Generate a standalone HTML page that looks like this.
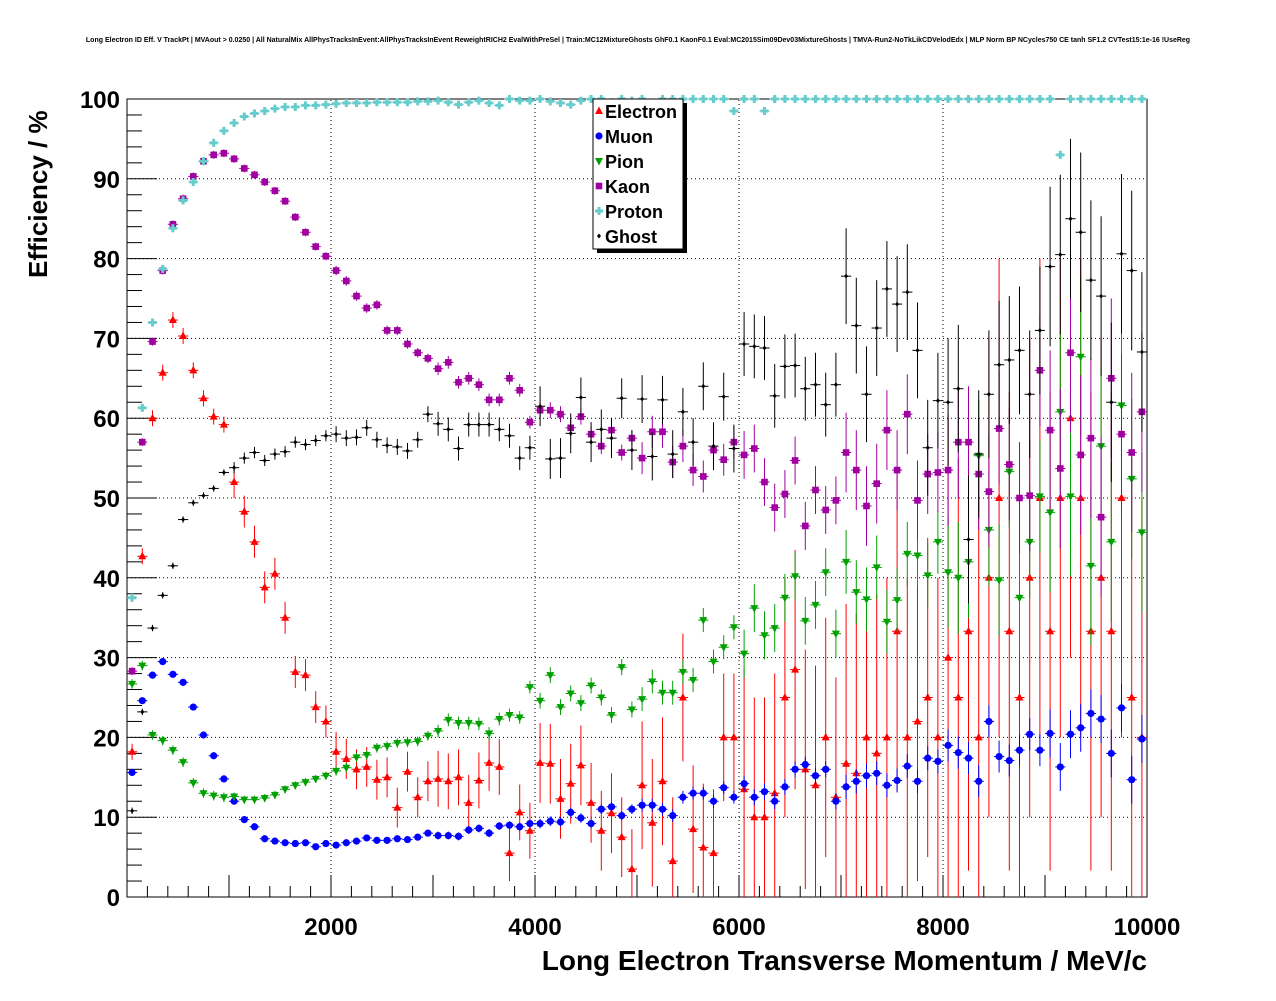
<!DOCTYPE html>
<html><head><meta charset="utf-8"><style>
body{margin:0;background:#fff;}
svg text{font-family:"Liberation Sans",sans-serif;font-weight:bold;}
</style></head><body>
<svg id="chart" width="1276" height="996">
<rect width="1276" height="996" fill="#fff"/>
<text x="638" y="42" font-size="7" text-anchor="middle">Long Electron ID Eff. V TrackPt | MVAout &gt; 0.0250 | All NaturalMix AllPhysTracksInEvent:AllPhysTracksInEvent ReweightRICH2 EvalWithPreSel | Train:MC12MixtureGhosts GhF0.1 KaonF0.1 Eval:MC2015Sim09Dev03MixtureGhosts | TMVA-Run2-NoTkLikCDVelodEdx | MLP Norm BP NCycles750 CE tanh SF1.2 CVTest15:1e-16 !UseReg</text>
<g id="grid"></g>
<g id="axes"></g>
<g id="marks"></g>
<text x="1147" y="970" font-size="28" text-anchor="end">Long Electron Transverse Momentum / MeV/c</text>
<text transform="translate(47,278) rotate(-90)" font-size="26">Efficiency / %</text>
<g id="legend"></g>
</svg>
<script>
const xTicks=[2000,4000,6000,8000,10000];
const yTicks=[0,10,20,30,40,50,60,70,80,90,100];
const seriesNames=["Electron","Muon","Pion","Kaon","Proton","Ghost"];
const proton=[37.5,61.3,72,78.7,83.8,87.3,89.6,92.2,94.5,96,97,97.8,98.2,98.5,98.8,99,99,99.2,99.2,99.3,99.4,99.5,99.5,99.5,99.6,99.6,99.6,99.6,99.7,99.7,99.8,99.6,99.3,99.6,99.8,99.5,99.2,100,99.8,99.8,100,99.7,99.5,99.3,99.8,100,100,99.6,100,99.8,100,99.5,100,100,100,100,100,100,100,98.5,100,100,98.5,100,100,100,100,100,100,100,100,100,100,100,100,100,100,100,100,100,100,100,100,100,100,100,100,100,100,100,100,93,100,100,100,100,100,100,100,100];
const kaon=[28.3,57,69.6,78.5,84.3,87.5,90.3,92.2,93,93.2,92.5,91.3,90.5,89.6,88.5,87.2,85.2,83.3,81.5,80.3,78.5,77.2,75.3,73.8,74.2,71,71,69.3,68.2,67.5,66.2,67,64.5,65,64.2,62.3,62.3,65,63.5,59.5,61,61,60.5,58.8,60.2,58,56.5,58.5,55.7,57.5,55,58.3,58.3,54.5,56.5,53.5,52.7,56,54.8,57,55.4,56.2,52,48.8,50.5,54.7,46.5,51,48.5,49.7,55.7,53.5,49,51.8,58.5,53.5,60.5,49.7,53,53.2,53.5,57,57,53,50.8,58.7,54.2,50,50.3,66,58.5,53.7,68.2,55.4,57.5,47.6,65,58,55.7,60.8];
const ghost=[10.8,23.2,33.7,37.8,41.5,47.3,49.4,50.3,51.2,53.2,53.8,55,55.7,54.7,55.5,55.8,57,56.7,57.2,57.8,58,57.5,57.6,58.8,57.3,56.6,56.4,55.9,57.3,60.5,59.3,58.6,56.2,59.2,59.2,59.2,58.6,57.8,55,56.3,61.5,54.9,55,58.1,62.6,57,58.6,57.5,62.5,56,62.4,55.2,62.3,55.5,60.8,57,64,56.5,62.7,56.2,69.3,69,68.8,62.8,66.5,66.6,63.7,64.2,61.7,64.2,77.8,71.6,63,71.3,76.2,74.3,75.8,68.5,56.3,62.2,62,63.7,44.8,55.5,63,66.7,67.3,68.5,63,71,79,80.5,85,83.3,77.3,75.3,62,80.6,78.5,68.3];
const pion=[26.7,29,20.3,19.6,18.4,16.9,14.3,13,12.7,12.5,12.6,12.2,12.2,12.4,12.8,13.5,14,14.4,14.8,15.2,15.8,16.2,17.5,17.8,18.7,18.9,19.3,19.4,19.5,20.2,20.8,22.2,21.8,21.8,21.7,20.5,22.3,22.8,22.5,26.3,24.6,27.8,23.8,25.5,24.3,26.5,25,22.8,28.8,23.5,24.8,27,25.6,25.6,28.2,27.2,34.7,29.5,31.3,33.8,30.5,36.2,32.8,33.7,37.5,40.2,34.6,36.6,40.7,33,42,38.2,37.3,41.3,34.5,37.2,43,42.8,40.3,44.5,40.7,40,42,55.3,46,39.7,53.3,37.5,44.5,50.2,48.2,60.8,50.2,67.7,41.5,56.5,44.5,61.6,52.4,45.7];
const electron=[18.2,42.7,60,65.7,72.3,70.3,66,62.5,60.2,59.2,52,48.3,44.5,38.8,40.5,35,28.2,27.8,23.8,22,18.2,17.3,16,16.3,14.7,15,11.2,15.7,12.5,14.5,14.8,14.5,15,11.8,14.6,16.8,16.3,5.5,10.6,8.3,16.8,16.7,12.3,14.2,16.5,11.8,8.3,10.5,7.5,3.5,14,9.3,14.5,4.5,25,8.5,6.2,5.5,20,20,13.5,10,10,13,25,28.5,16,14,20,12.5,16.7,15.5,20,18,20,33.3,20,22,25,20,30,25,33.3,20,40,50,33.3,25,40,50,33.3,50,60,50,33.3,40,33.3,50,25,20];
const muon=[15.6,24.6,27.8,29.5,27.9,26.9,23.8,20.3,17.7,14.8,12,9.7,8.8,7.3,7,6.8,6.7,6.8,6.3,6.7,6.5,6.8,7,7.4,7.1,7.1,7.3,7.2,7.5,8,7.7,7.7,7.6,8.4,8.6,8,8.9,9,8.8,9.2,9.2,9.5,9.4,10.6,9.9,9.2,11,11.3,10.2,11,11.5,11.5,11,10.2,12.5,13,13,12,13.7,12.5,14.2,12.5,13.2,12,13.8,16,16.6,15.2,16,12,13.8,14.5,15.2,15.5,14,14.6,16.4,14.5,17.4,17,19,18.1,17.4,14.5,22,17.6,17.1,18.4,20.4,18.4,20.5,16.3,20.4,21.2,23,22.3,18,23.7,14.7,19.8];
const errElectron=[1,2,2.5,3.5,5,8,15,20,30,30];
const errMuon=[0.4,0.3,0.4,0.5,0.6,0.8,1,1.5,2,3];
const errPion=[0.6,0.5,0.6,0.8,1,1.5,3,4,7,10];
const errKaon=[0.5,0.5,0.6,0.8,1,2,3,5,7,10];
const errProton=[0.5,0.3,0.2,0.2,0.2,0.3,0.3,0.3,0.5,0.5];
const errGhost=[0.4,0.7,1,1.5,2.5,3,4,6,8,10];
const binWidth=100;

const X0=127,X1=1147,Y0=897,Y1=99;
const xs=v=>X0+(v/10000)*(X1-X0);
const ys=v=>Y0-(v/100)*(Y0-Y1);
const NS="http://www.w3.org/2000/svg";
function mk(tag,attrs,parent){const e=document.createElementNS(NS,tag);for(const k in attrs)e.setAttribute(k,attrs[k]);parent.appendChild(e);return e;}
const grid=document.getElementById('grid'),axes=document.getElementById('axes'),marks=document.getElementById('marks'),legend=document.getElementById('legend');
xTicks.forEach(t=>{if(t<10000){const l=mk('line',{x1:xs(t),x2:xs(t),y1:Y0,y2:Y1,stroke:'#000','stroke-width':1,'stroke-dasharray':'1,3'},grid);

}
const tx=mk('text',{x:xs(t),y:935,'font-size':24,'text-anchor':'middle'},axes);tx.textContent=t;

});
for(let v=0;v<=10000;v+=200){const len=(v%1000===0)?22:11;mk('line',{x1:xs(v),x2:xs(v),y1:Y0,y2:Y0-len,stroke:'#000'},axes);}
yTicks.forEach(t=>{if(t>0&&t<100){const l=mk('line',{x1:X0,x2:X1,y1:ys(t),y2:ys(t),stroke:'#000','stroke-width':1,'stroke-dasharray':'1,3'},grid);

}
const tx=mk('text',{x:120,y:ys(t)+9,'font-size':24,'text-anchor':'end'},axes);tx.textContent=t;

});
for(let v=0;v<=100;v+=2){const len=(v%10===0)?30:15;mk('line',{x1:X0,x2:X0+len,y1:ys(v),y2:ys(v),stroke:'#000'},axes);}
mk('rect',{x:X0,y:Y1,width:X1-X0,height:Y0-Y1,fill:'none',stroke:'#000','stroke-width':1},axes);

function marker(type,cx,cy,color,parent){
 if(type==='tri')return mk('polygon',{points:`${cx},${cy-4.5} ${cx-4},${cy+3} ${cx+4},${cy+3}`,fill:color},parent);
 if(type==='circ')return mk('circle',{cx:cx,cy:cy,r:3.6,fill:color},parent);
 if(type==='tridown')return mk('polygon',{points:`${cx},${cy+4.5} ${cx-4},${cy-3} ${cx+4},${cy-3}`,fill:color},parent);
 if(type==='sq')return mk('rect',{x:cx-3.3,y:cy-3.3,width:6.6,height:6.6,fill:color},parent);
 if(type==='cross')return mk('path',{d:`M${cx-4},${cy-1.5}h2.5v-2.5h3v2.5h2.5v3h-2.5v2.5h-3v-2.5h-2.5z`,fill:color},parent);
 if(type==='diam')return mk('polygon',{points:`${cx},${cy-2.5} ${cx-2},${cy} ${cx},${cy+2.5} ${cx+2},${cy}`,fill:color},parent);
}
const defs=[
 {name:'electron',vals:electron,err:errElectron,type:'tri',color:'#ff0000'},
 {name:'muon',vals:muon,err:errMuon,type:'circ',color:'#0000ff'},
 {name:'pion',vals:pion,err:errPion,type:'tridown',color:'#00a000'},
 {name:'kaon',vals:kaon,err:errKaon,type:'sq',color:'#a000a0'},
 {name:'proton',vals:proton,err:errProton,type:'cross',color:'#66cccc'},
 {name:'ghost',vals:ghost,err:errGhost,type:'diam',color:'#000000'}
];
defs.forEach(s=>{
 const g=mk('g',{},marks);
 
 
 s.vals.forEach((v,i)=>{
  if(v==null)return;
  const c=(i+0.5)*binWidth,cx=xs(c),cy=ys(v);
  const e=s.err[Math.floor(i/10)];
  const lo=Math.max(0,v-e),hi=Math.min(100,v+e);
  mk('line',{x1:xs(c-binWidth/2),x2:xs(c+binWidth/2),y1:cy,y2:cy,stroke:s.color,'stroke-width':1},g);
  mk('line',{x1:cx,x2:cx,y1:ys(lo),y2:ys(hi),stroke:s.color,'stroke-width':1},g);
  const m=marker(s.type,cx,cy,s.color,g);
  
  
 });
});
// legend
mk('rect',{x:597,y:103,width:90,height:150,fill:'#000'},legend);
mk('rect',{x:593,y:99,width:90,height:150,fill:'#fff',stroke:'#000'},legend);
seriesNames.forEach((n,i)=>{
 const y=111+i*25;
 const m=marker(defs[i].type,599,y,defs[i].color,legend);
 const t=mk('text',{x:605,y:y+7,'font-size':18},legend);t.textContent=n;
 
 
});
</script>
</body></html>
